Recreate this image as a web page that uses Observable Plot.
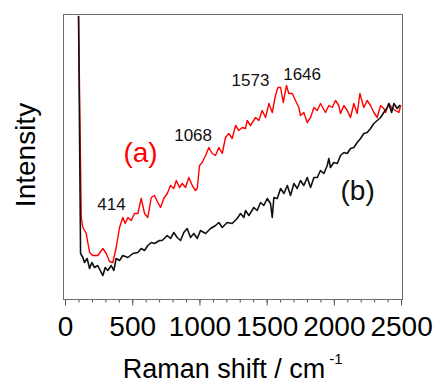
<!DOCTYPE html>
<html><head><meta charset="utf-8">
<script src="https://cdn.jsdelivr.net/npm/d3@7"></script>
<script src="https://cdn.jsdelivr.net/npm/@observablehq/plot@0.6"></script>
<style>html,body{margin:0;padding:0;background:#fff}</style>
</head><body><div id="chart"></div>
<script>
// Spectrum (a): red
const redShift = [97,117,129,154,179,203,240,278,303,327,352,377,402,426,444,464,489,513,538,563,588,612,638,662,687,707,731,757,781,806,824,848,868,893,917,943,967,980,997,1017,1042,1066,1091,1116,1141,1166,1190,1215,1240,1265,1289,1315,1339,1352,1376,1414,1438,1463,1488,1513,1538,1562,1580,1600,1620,1644,1661,1687,1711,1736,1748,1773,1798,1823,1848,1873,1897,1934,1959,1984,2009,2033,2046,2071,2096,2120,2145,2170,2190,2219,2244,2269,2294,2319,2344,2368,2381,2405,2431,2455,2480,2493];
const redIntensity = [283,82,72,66,47,44,44,51,46,38,37,52,72,82,76,82,79,86,86,101,86,82,102,104,97,92,101,106,114,111,119,112,116,112,122,114,109,111,134,137,144,152,146,144,152,146,162,166,161,174,169,172,171,179,174,182,179,189,182,196,187,204,212,212,197,214,206,206,199,192,184,187,177,182,192,189,196,187,194,192,199,194,186,194,189,182,196,186,206,192,199,194,187,182,194,191,187,196,191,189,187,194];
// Spectrum (b): black
const blackShift = [97,112,129,141,161,179,196,216,240,266,278,295,315,340,359,377,402,426,464,501,538,563,588,612,638,662,699,719,757,781,806,831,856,880,905,930,955,980,1004,1042,1079,1116,1141,1166,1203,1240,1277,1302,1327,1339,1364,1401,1426,1451,1475,1501,1525,1538,1550,1575,1600,1625,1650,1674,1699,1724,1748,1773,1798,1823,1848,1873,1897,1922,1947,1959,1971,1996,2022,2046,2071,2096,2120,2145,2170,2195,2219,2244,2269,2294,2319,2344,2368,2394,2405,2426,2443,2468,2485];
const blackIntensity = [283,46,42,37,41,31,37,32,34,27,24,32,29,34,29,41,39,44,42,46,47,51,49,54,57,56,59,59,64,61,67,62,59,67,71,62,66,61,69,66,71,74,77,72,77,76,81,86,82,89,84,92,89,97,94,101,96,82,102,101,111,106,114,104,116,111,119,114,122,112,122,122,129,126,134,141,132,137,136,144,147,146,151,152,157,161,166,167,171,176,179,182,187,192,196,187,196,191,194];
// Peak annotations
const peakLabels = ["414","1068","1573","1646"];
const peakLabelShift = [342, 949, 1376, 1760];
const peakLabelIntensity = [95, 164, 219, 225];
// Series labels
const seriesLabels = ["(a)","(b)"];
const seriesLabelShift = [558, 2173];
const seriesLabelIntensity = [146, 108];
const seriesColors = ["#ff0000", "#111111"];
// Axis ticks
const majorTicks = [0, 500, 1000, 1500, 2000, 2500];
const minorTicks = d3.range(0, 2501, 100);

const red = redShift.map((x, i) => ({x, y: redIntensity[i]}));
const black = blackShift.map((x, i) => ({x, y: blackIntensity[i]}));
const peaks = peakLabels.map((t, i) => ({t, x: peakLabelShift[i], y: peakLabelIntensity[i]}));
const series = seriesLabels.map((t, i) => ({t, x: seriesLabelShift[i], y: seriesLabelIntensity[i], c: seriesColors[i]}));

const font = "'Liberation Sans', Arial, sans-serif";
const chart = Plot.plot({
  width: 434, height: 383,
  marginLeft: 63, marginRight: 32, marginTop: 14, marginBottom: 84,
  style: {fontFamily: font, background: "#fff", color: "#000"},
  x: {domain: [-15, 2507]},
  y: {domain: [0, 285]},
  marks: [
    Plot.axisX({ticks: minorTicks, tickSize: 3.5, tickFormat: () => "", stroke: "#555", label: null}),
    Plot.axisX({ticks: majorTicks, tickSize: 6.5, tickPadding: 10, fontSize: 28, stroke: "#555", fill: "#000", tickFormat: d => String(d), label: null}),
    Plot.axisY({ticks: [], label: null}),
    Plot.line(red, {x: "x", y: "y", stroke: seriesColors[0], strokeWidth: 1.4}),
    Plot.line(black, {x: "x", y: "y", stroke: seriesColors[1], strokeWidth: 1.6}),
    Plot.frame({stroke: "#6e6e6e", strokeWidth: 1}),
    Plot.text(peaks, {x: "x", y: "y", text: "t", fontSize: 17, fill: "#111"}),
    Plot.text(series, {x: "x", y: "y", text: "t", fontSize: 28, fill: "c"}),
    Plot.text(["Intensity"], {frameAnchor: "left", textAnchor: "middle", lineAnchor: "middle", rotate: -90, dx: -37, dy: -2, fontSize: 28, fill: "#000"}),
    Plot.text(["Raman shift / cm"], {frameAnchor: "bottom", textAnchor: "middle", lineAnchor: "bottom", dx: -9, dy: 78, fontSize: 27, fill: "#000"}),
    Plot.text(["-1"], {frameAnchor: "bottom", textAnchor: "middle", lineAnchor: "bottom", dx: 103, dy: 64, fontSize: 15, fill: "#000"})
  ]
});
document.getElementById("chart").appendChild(chart);
</script>
</body></html>
